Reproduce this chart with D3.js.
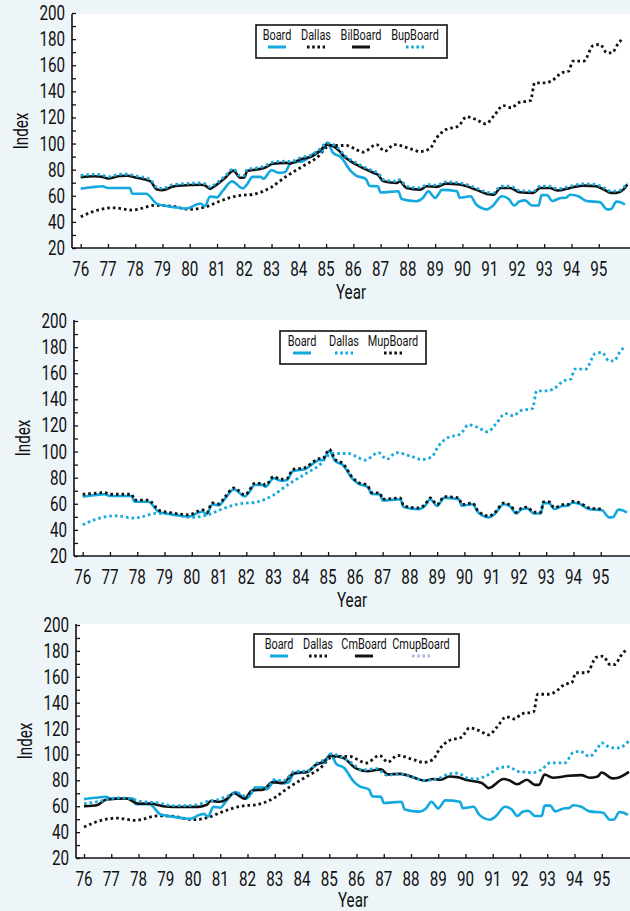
<!DOCTYPE html>
<html>
<head>
<meta charset="utf-8">
<script src="https://cdn.jsdelivr.net/npm/d3@7"></script>
<style>
  body { margin: 0; background: #edf5f9; }
  svg { display: block; }
  text { font-family: Roboto, "Liberation Sans", sans-serif; fill: #111; }
</style>
</head>
<body>
<div id="chart"></div>
<script>
// tick labels
const yearTicks = [76, 77, 78, 79, 80, 81, 82, 83, 84, 85, 86, 87, 88, 89, 90, 91, 92, 93, 94, 95];
const indexTicks = [20, 40, 60, 80, 100, 120, 140, 160, 180, 200];

// series values, [year, index]
const board = [[76.0,65.5],[76.4,66.5],[76.8,67.3],[77.0,66],[77.8,66],[77.9,61.5],[78.4,61.5],[78.8,53.8],[79.2,52],[79.6,50.8],[79.9,50.3],[80.25,53.4],[80.4,54.1],[80.55,52],[80.75,59.5],[81.0,58.8],[81.2,63.5],[81.55,71],[81.95,65.6],[82.1,68.7],[82.3,74.5],[82.6,74.5],[82.7,73],[83.0,79.6],[83.25,77.6],[83.5,78.3],[83.7,85],[84.0,86],[84.15,86.5],[84.5,91.6],[84.65,93.4],[84.8,93.4],[85.05,100.5],[85.25,93],[85.55,89.5],[85.9,79],[86.1,75.5],[86.45,73],[86.6,67.5],[86.9,67.3],[87.0,62.5],[87.65,63.5],[87.77,57.5],[88.3,55.8],[88.55,58.3],[88.75,63.5],[89.0,58.3],[89.1,60.5],[89.25,64.5],[89.8,63.5],[89.9,58.5],[90.3,59.6],[90.5,53.5],[90.9,49.6],[91.1,52],[91.45,59.6],[91.7,57.5],[91.9,52.5],[92.1,55.8],[92.3,56.5],[92.55,52.5],[92.8,52.5],[92.9,60.5],[93.1,60.5],[93.3,56],[93.6,58.3],[93.8,58.5],[93.95,60.8],[94.25,59.6],[94.55,56],[95.05,55],[95.3,49.6],[95.45,49.8],[95.65,55.5],[95.8,55],[95.96,53.2]];

const dallas = [[76.0,43.9],[76.4,47.5],[77.2,50.8],[77.9,49],[78.2,50.2],[78.7,52.6],[79.3,52.1],[80.0,49.6],[80.6,51.6],[81.1,55.9],[81.85,60.3],[82.3,61],[82.95,66.1],[83.55,75],[84.15,82.7],[84.65,89],[85.15,98.5],[85.75,98.5],[86.0,96.5],[86.35,93.4],[86.85,99.2],[87.15,94.1],[87.5,99.2],[88.1,95.9],[88.45,93.9],[88.8,95.9],[89.05,104.3],[89.4,110.7],[89.85,113.3],[90.15,120.5],[90.5,118.4],[90.85,115.1],[91.15,121],[91.5,129.1],[91.8,127.4],[92.05,131.2],[92.5,133],[92.65,146.5],[93.05,146.5],[93.25,147.8],[93.65,154.2],[93.9,155.5],[94.05,163.1],[94.45,163.1],[94.8,175.1],[95.05,175.9],[95.3,169.5],[95.5,169.5],[95.65,174.6],[95.9,181]];

const bilBoard = [[76.0,74.3],[76.5,75],[76.8,74.5],[77.0,73.2],[77.45,75.2],[77.7,75.3],[78.05,73.8],[78.55,71.2],[78.8,64.8],[79.0,64.3],[79.4,67.2],[80.0,68.2],[80.4,68.5],[80.55,68],[80.75,65.3],[80.9,67.2],[81.3,73.8],[81.6,79.3],[81.85,73.8],[82.0,74],[82.1,78.9],[82.45,80.1],[82.75,81.4],[83.05,84.5],[83.55,85.2],[83.7,84.8],[84.05,87.8],[84.5,90.3],[84.75,94.1],[85.05,99.2],[85.5,94],[85.65,90.3],[86.1,84],[86.75,77.5],[86.9,76.2],[87.1,71.1],[87.6,69.8],[87.7,71.1],[87.95,66],[88.45,64.7],[88.7,67.3],[89.05,66.8],[89.4,69.3],[89.9,68.6],[90.5,64.7],[90.9,61.4],[91.15,60.9],[91.4,66],[91.75,66],[92.1,62.7],[92.6,62.2],[92.85,66],[93.2,66],[93.5,64],[93.95,66],[94.45,67.8],[94.9,67.3],[95.15,65.2],[95.45,62.2],[95.65,62.2],[95.9,64.7],[96.05,68.6]];

const bupBoard = [[76.0,75.6],[76.5,76.4],[76.8,75.8],[77.0,74.5],[77.45,76.5],[77.7,76.5],[78.05,75.1],[78.55,72.5],[78.8,66.2],[79.0,65.6],[79.4,68.6],[80.0,69.5],[80.4,69.8],[80.55,69.3],[80.75,66.6],[80.9,68.5],[81.3,75.1],[81.6,80.6],[81.85,75.1],[82.0,75.3],[82.1,80.2],[82.45,81.4],[82.75,82.7],[83.05,85.8],[83.55,86.5],[83.7,86.1],[84.05,89.1],[84.5,91.6],[84.75,95.4],[85.05,100.4],[85.5,95.3],[85.65,91.6],[86.1,85.3],[86.75,78.8],[86.9,77.5],[87.1,72.4],[87.6,71.1],[87.7,72.4],[87.95,67.3],[88.45,66],[88.7,68.6],[89.05,68.1],[89.4,70.6],[89.9,69.9],[90.5,66],[90.9,62.7],[91.15,62.2],[91.4,67.3],[91.75,67.3],[92.1,64],[92.6,63.5],[92.85,67.3],[93.2,67.3],[93.5,65.3],[93.95,67.3],[94.45,69.1],[94.9,68.6],[95.15,66.5],[95.45,63.5],[95.65,63.5],[95.9,66],[96.05,69.9]];

const mupBoard = [[76.0,67.3],[76.4,68],[76.8,68.6],[77.0,67.3],[77.8,67.3],[77.9,62.8],[78.4,62.8],[78.8,55],[79.2,53.2],[79.6,52],[79.9,51.5],[80.25,54.5],[80.4,55.3],[80.55,53.2],[80.75,60.7],[81.0,60],[81.2,64.7],[81.55,72.2],[81.95,66.8],[82.1,69.9],[82.3,75.7],[82.6,75.7],[82.7,74.2],[83.0,80.8],[83.25,78.8],[83.5,79.5],[83.7,86.2],[84.0,87.2],[84.15,87.7],[84.5,92.8],[84.65,94.6],[84.8,94.6],[85.05,101.7],[85.25,94.2],[85.55,90.6],[85.9,80],[86.1,76.5],[86.45,74],[86.6,68.5],[86.9,68.3],[87.0,63.5],[87.65,64.5],[87.77,58.5],[88.3,56.8],[88.55,59.3],[88.75,64.5],[89.0,59.3],[89.1,61.5],[89.25,65.5],[89.8,64.5],[89.9,59.5],[90.3,60.6],[90.5,54.5],[90.9,50.6],[91.1,53],[91.45,60.6],[91.7,58.5],[91.9,53.5],[92.1,56.8],[92.3,57.5],[92.55,53.5],[92.8,53.5],[92.9,61.5],[93.1,61.5],[93.3,57],[93.6,59.3],[93.8,59.5],[93.95,61.8],[94.25,60.6],[94.55,57],[95.05,56]];

const cmBoard = [[76.0,60],[76.5,61],[76.8,65],[77.55,66],[78.0,62],[78.45,62],[78.9,60],[79.3,59.4],[80.2,59.5],[80.5,61],[80.65,64],[81.0,63.5],[81.2,65],[81.5,70],[81.9,65.9],[82.15,72],[82.6,73],[82.9,78.5],[83.3,78],[83.7,85.5],[84.2,86.5],[84.5,92],[84.8,94.5],[85.05,99],[85.5,97.5],[86.0,89],[86.4,87],[86.9,88.5],[87.15,84.6],[87.6,85],[88.2,81.5],[88.5,79.7],[88.8,81],[89.1,80.5],[89.4,83],[89.7,82.5],[90.1,80],[90.6,78],[90.85,74],[91.4,81],[91.6,80],[91.9,77],[92.25,80.5],[92.55,76.5],[92.7,76.5],[92.9,84.5],[93.2,82],[93.8,83.5],[94.25,84],[94.55,82],[94.85,83],[95.0,86],[95.4,81.5],[95.6,82],[96.0,86.5]];

const cmupBoard = [[76.0,62],[76.5,63.5],[77.25,66.5],[77.7,66],[78.0,64],[78.75,62.5],[79.2,60.5],[79.8,60.5],[80.2,61.5],[80.6,64],[80.9,65],[81.4,69],[81.6,70.5],[82.0,67],[82.3,74.5],[82.7,74],[83.0,80.5],[83.3,79.5],[83.75,87],[84.2,87],[84.6,94],[84.95,97],[85.1,100.5],[85.4,98.5],[85.85,93],[86.2,88],[86.75,89],[87.1,84],[87.6,85],[88.05,82.5],[88.5,80],[88.95,81],[89.4,85],[89.7,85.5],[90.1,81.5],[90.4,81],[90.8,84],[91.3,90],[91.6,90.5],[91.9,87],[92.5,86],[92.8,88.5],[93.1,93.5],[93.65,93.5],[93.95,101.5],[94.2,102.5],[94.55,98.5],[94.85,105],[95.0,109],[95.3,105.5],[95.6,105],[96.0,110.5]];

const CYAN = "#13a8de";
const BLACK = "#111";
const SQUEEZE = 0.78; // condensed type look

const W = 630, H = 911;
const svg = d3.select("#chart").append("svg").attr("width", W).attr("height", H);
svg.append("rect").attr("width", W).attr("height", H).attr("fill", "#edf5f9");

const panels = [
  {
    axisX: 72, plotTop: 14, xr: [80.7, 626], yr: [248, 13],
    legend: {x: 256, y: 25, w: 191, h: 33, centers: [277, 316, 361, 415]},
    series: [
      {name: "Board",    data: board,    color: CYAN,  dotted: false, draw: 1},
      {name: "Dallas",   data: dallas,   color: BLACK, dotted: true,  draw: 0},
      {name: "BilBoard", data: bilBoard, color: BLACK, dotted: false, draw: 2},
      {name: "BupBoard", data: bupBoard, color: CYAN,  dotted: true,  draw: 3}
    ]
  },
  {
    axisX: 74, plotTop: 320, xr: [82.7, 628], yr: [556, 321],
    legend: {x: 280, y: 331, w: 146, h: 33, centers: [302, 344, 393]},
    series: [
      {name: "Board",    data: board,    color: CYAN,  dotted: false, draw: 1},
      {name: "Dallas",   data: dallas,   color: CYAN,  dotted: true,  draw: 0},
      {name: "MupBoard", data: mupBoard, color: BLACK, dotted: true,  draw: 2}
    ]
  },
  {
    axisX: 76, plotTop: 624, xr: [84, 629], yr: [858, 625],
    legend: {x: 254, y: 634, w: 205, h: 33, centers: [279, 318, 364, 421]},
    series: [
      {name: "Board",     data: board,     color: CYAN,  dotted: false, draw: 1},
      {name: "Dallas",    data: dallas,    color: BLACK, dotted: true,  draw: 0},
      {name: "CmBoard",   data: cmBoard,   color: BLACK, dotted: false, draw: 2},
      {name: "CmupBoard", data: cmupBoard, color: CYAN,  dotted: true,  draw: 3, legendColor: "#aab6dc"}
    ]
  }
];

panels.forEach((p, i) => {
  const g = svg.append("g");
  const x = d3.scaleLinear().domain([76, 96]).range(p.xr);
  const y = d3.scaleLinear().domain([20, 200]).range(p.yr);
  const bottom = y(20);

  // plot area
  g.append("rect")
    .attr("x", p.axisX).attr("y", p.plotTop)
    .attr("width", W - p.axisX).attr("height", bottom - p.plotTop)
    .attr("fill", "#fff");

  const clipId = "clip" + i;
  g.append("clipPath").attr("id", clipId)
    .append("rect")
    .attr("x", p.axisX).attr("y", p.plotTop)
    .attr("width", W - p.axisX).attr("height", bottom - p.plotTop);

  // lines
  const line = d3.line()
    .x(d => x(d[0]))
    .y(d => y(d[1]))
    .curve(d3.curveMonotoneX);

  const ordered = p.series.slice().sort((a, b) => a.draw - b.draw);
  g.append("g").attr("clip-path", `url(#${clipId})`)
    .selectAll("path")
    .data(ordered)
    .enter()
    .append("path")
    .attr("d", d => line(d.data))
    .attr("fill", "none")
    .attr("stroke", d => d.color)
    .attr("stroke-width", d => d.dotted ? 2.8 : 2.6)
    .attr("stroke-dasharray", d => d.dotted ? "2.6,3" : null)
    .attr("stroke-linejoin", "round");

  // y axis
  const yAxis = d3.axisRight(y)
    .tickValues(d3.range(20, 201, 10))
    .tickSize(4)
    .tickFormat("");
  const ya = g.append("g").attr("transform", `translate(${p.axisX},0)`).call(yAxis);
  ya.select(".domain").attr("stroke", BLACK).attr("stroke-width", 1.6)
    .attr("d", `M0,${p.plotTop}V${bottom}`);
  ya.selectAll(".tick line").attr("stroke", BLACK).attr("stroke-width", 1.3);

  g.selectAll(".ylab")
    .data(indexTicks)
    .enter()
    .append("text")
    .attr("transform", d => `translate(${p.axisX - 7},${y(d) + 7}) scale(${SQUEEZE},1)`)
    .attr("text-anchor", "end")
    .attr("font-size", 19.5)
    .text(d => d);

  // x axis
  const xAxis = d3.axisTop(x)
    .tickValues(yearTicks)
    .tickSize(4)
    .tickFormat("");
  const xa = g.append("g").attr("transform", `translate(0,${bottom})`).call(xAxis);
  xa.select(".domain").attr("stroke", BLACK).attr("stroke-width", 1.6)
    .attr("d", `M${p.axisX},0H${W}`);
  xa.selectAll(".tick line").attr("stroke", BLACK).attr("stroke-width", 1.3);

  g.selectAll(".xlab")
    .data(yearTicks)
    .enter()
    .append("text")
    .attr("transform", d => `translate(${x(d)},${bottom + 28}) scale(${SQUEEZE},1)`)
    .attr("text-anchor", "middle")
    .attr("font-size", 19.5)
    .text(d => d);

  // axis titles
  g.append("text")
    .attr("transform", `translate(${(p.axisX + W) / 2},${Math.min(bottom + 51, 907)}) scale(${SQUEEZE},1)`)
    .attr("text-anchor", "middle")
    .attr("font-size", 19.5)
    .text("Year");

  g.append("text")
    .attr("transform", `translate(${p.axisX - 44},${(p.plotTop + bottom) / 2}) rotate(-90) scale(${SQUEEZE},1)`)
    .attr("text-anchor", "middle")
    .attr("font-size", 19.5)
    .text("Index");

  // legend
  const L = p.legend;
  const lg = g.append("g");
  lg.append("rect")
    .attr("x", L.x).attr("y", L.y).attr("width", L.w).attr("height", L.h)
    .attr("fill", "#fff").attr("stroke", BLACK).attr("stroke-width", 1.6);

  const items = lg.selectAll(".item")
    .data(p.series)
    .enter()
    .append("g")
    .attr("transform", (d, k) => `translate(${L.centers[k]},${L.y})`);

  items.append("text")
    .attr("transform", `translate(0,15) scale(${SQUEEZE},1)`)
    .attr("text-anchor", "middle")
    .attr("font-size", 14)
    .text(d => d.name);

  items.append("line")
    .attr("x1", -9).attr("x2", 9)
    .attr("y1", 22).attr("y2", 22)
    .attr("stroke", d => d.legendColor || d.color)
    .attr("stroke-width", 3)
    .attr("stroke-dasharray", d => d.dotted ? "2.6,2.6" : null);
});
</script>
</body>
</html>
